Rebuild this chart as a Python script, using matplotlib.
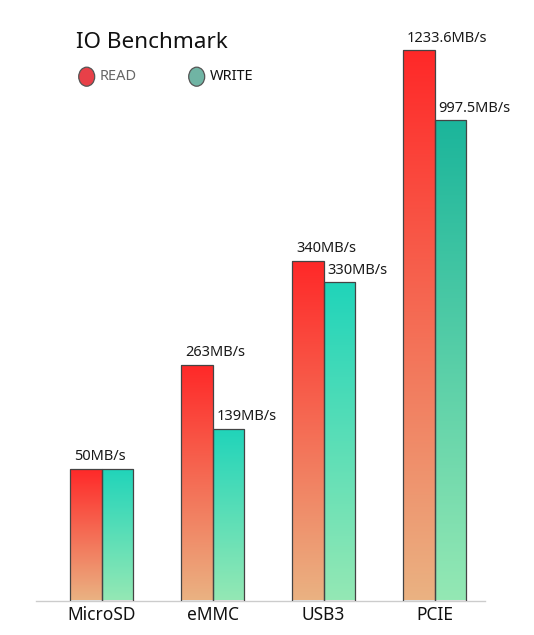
import numpy as np
import matplotlib
matplotlib.use("Agg")
import matplotlib.pyplot as plt
from matplotlib.colors import LinearSegmentedColormap

plt.rcParams["font.family"] = ["Noto Sans", "DejaVu Sans"]

# data (bar heights, labels as shown)
categories = ["MicroSD", "eMMC", "USB3", "PCIE"]
read_heights = [132, 236, 340, 551]
write_heights = [132, 172, 319, 481]
read_labels = ["50MB/s", "263MB/s", "340MB/s", "1233.6MB/s"]
write_labels = ["", "139MB/s", "330MB/s", "997.5MB/s"]

# colours
read_top = ["#FF2828", "#FF2828", "#FF2828", "#FF2828"]
read_bottom = "#EAB282"
write_top = ["#20D4BA", "#20D4BA", "#20D4BA", "#1BB59B"]
write_bottom = "#94E8B4"

W, H = 534, 635
fig = plt.figure(figsize=(W / 100, H / 100), dpi=100)
# axes in pixel units: baseline at y=600.5, axis line from x=36 to 485
ax = fig.add_axes([36 / W, (H - 600.5) / H, (485 - 36) / W, 570 / H])
ax.set_ylim(0, 570)
step = 111.0

x = np.arange(len(categories))
bw = 31.5 / step


def gradient_bars(xs, heights, tops, bottom):
    bars = ax.bar(xs, heights, width=bw, facecolor="none",
                  edgecolor="#444444", linewidth=0.9, zorder=3)
    for b, top in zip(bars, tops):
        cmap = LinearSegmentedColormap.from_list("g", [bottom, top])
        grad = np.linspace(0, 1, 256).reshape(-1, 1)
        x0, y0 = b.get_x(), b.get_y()
        im = ax.imshow(grad, cmap=cmap, origin="lower", aspect="auto",
                       extent=[x0, x0 + b.get_width(), y0, y0 + b.get_height()],
                       zorder=2)
        im.set_clip_path(b)
    return bars


rb = gradient_bars(x - bw / 2, read_heights, read_top, read_bottom)
wb = gradient_bars(x + bw / 2, write_heights, write_top, write_bottom)

for bars, labels in [(rb, read_labels), (wb, write_labels)]:
    for b, lab in zip(bars, labels):
        ax.text(b.get_x() + 4 / step, b.get_height() + 4, lab,
                ha="left", va="bottom", fontsize=10.5, color="#1a1a1a")

ax.set_xlim((36 - 101.5) / step, (485 - 101.5) / step)
for s in ["top", "right", "left"]:
    ax.spines[s].set_visible(False)
ax.spines["bottom"].set_color("#cccccc")
ax.spines["bottom"].set_linewidth(1)
ax.set_yticks([])
ax.set_xticks(x)
ax.set_xticklabels(categories, fontsize=12.5, color="#111111")
ax.tick_params(axis="x", length=0, pad=4)

# title and legend
fig.text(76 / W, 1 - 42 / H, "IO Benchmark", fontsize=16.2, color="#111111",
         ha="left", va="center")
fig.patches.append(plt.Circle((86.7 / W, 1 - 76.7 / H), 8 / W,
                              transform=fig.transFigure, facecolor="#E84048",
                              edgecolor="#555555", linewidth=0.9))
fig.text(100 / W, 1 - 76.7 / H, "READ", fontsize=10.5, color="#666666",
         ha="left", va="center")
fig.patches.append(plt.Circle((196.7 / W, 1 - 76.7 / H), 8 / W,
                              transform=fig.transFigure, facecolor="#70B4A4",
                              edgecolor="#555555", linewidth=0.9))
fig.text(210 / W, 1 - 76.7 / H, "WRITE", fontsize=10.5, color="#111111",
         ha="left", va="center")

fig.savefig("out.png", dpi=100)
